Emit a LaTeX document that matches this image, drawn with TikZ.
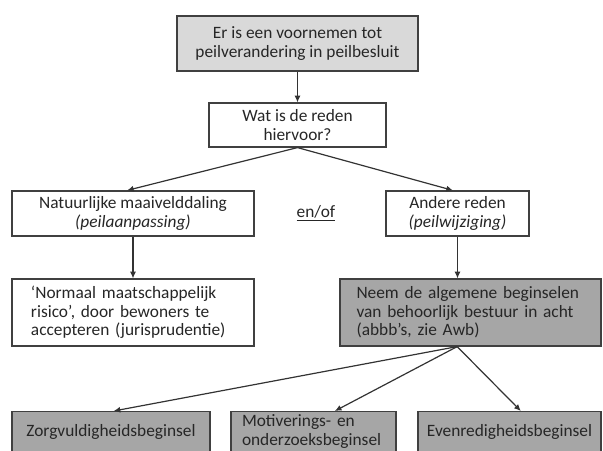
\documentclass[tikz,border=0pt]{standalone}
\usepackage{fontspec}
\setmainfont{Carlito}
\usepackage{xcolor}
\usetikzlibrary{arrows.meta}

\begin{document}
\begin{tikzpicture}[x=0.75pt, y=-0.75pt,
    font=\fontsize{13}{14}\selectfont, text=black!85,
    box/.style={draw=black!75, line width=0.9pt, minimum height=33.75pt, align=center, inner sep=2pt},
    lightbox/.style={box, fill=gray!30},
    whitebox/.style={box, fill=white},
    darkbox/.style={box, fill=gray!70},
    arr/.style={draw=black!80, line width=0.9pt, -{Latex[length=5pt,width=4.5pt]}}]
    \useasboundingbox (0,0) rectangle (603,450);
    \clip (0,0) rectangle (603,450);
    \node[lightbox, minimum width=180.75pt, minimum height=41.25pt] (voornemen) at (297.5,43.5) {Er is een voornemen tot\\peilverandering in peilbesluit};
    \node[whitebox, minimum width=132.75pt, minimum height=33pt] (reden) at (297.5,125) {Wat is de reden\\hiervoor?};
    \node[whitebox, minimum width=181.5pt] (natuur) at (133,213.5) {Natuurlijke maaivelddaling\\\textit{(peilaanpassing)}};
    \node[whitebox, minimum width=107.25pt] (andere) at (457.5,213.5) {Andere reden\\\textit{(peilwijziging)}};
    \node (enof) at (316,213) {\underline{en/of}};
    \node[whitebox, minimum height=50.25pt, text width=153pt, inner xsep=14.25pt, align=left] (risico) at (133,312.5) {`Normaal maatschappelijk\\risico', door bewoners te\\accepteren (jurisprudentie)};
    \node[darkbox, minimum height=50.25pt, text width=171pt, inner xsep=12.4pt, align=left] (abbb) at (470.5,312.5) {Neem de algemene beginselen\\van behoorlijk bestuur in acht\\(abbb's, zie Awb)};
    \node[darkbox, anchor=north, minimum width=148.5pt, minimum height=30pt] (zorg) at (111,411) {Zorgvuldigheidsbeginsel};
    \node[darkbox, anchor=north, minimum height=30pt, text width=107.25pt, inner xsep=8.25pt, align=left] (motiv) at (313.5,411) {Motiverings- en\\onderzoeksbeginsel};
    \node[darkbox, anchor=north, minimum width=137.25pt, minimum height=30pt] (even) at (509.5,411) {Evenredigheidsbeginsel};
    \draw[arr] (voornemen.south) -- (reden.north);
    \draw[arr] (reden.south) -- ([xshift=-4.5pt]natuur.north);
    \draw[arr] (reden.south) -- ([xshift=-3.4pt]andere.north);
    \draw[arr] (natuur.south) -- (risico.north);
    \draw[arr] (andere.south) -- (andere.south |- abbb.north);
    \draw[arr] ([xshift=-10pt]abbb.south) -- ([xshift=2pt]zorg.north);
    \draw[arr] ([xshift=-10pt]abbb.south) -- ([xshift=16pt]motiv.north);
    \draw[arr] ([xshift=-10pt]abbb.south) -- ([xshift=8.5pt]even.north);
\end{tikzpicture}
\end{document}
